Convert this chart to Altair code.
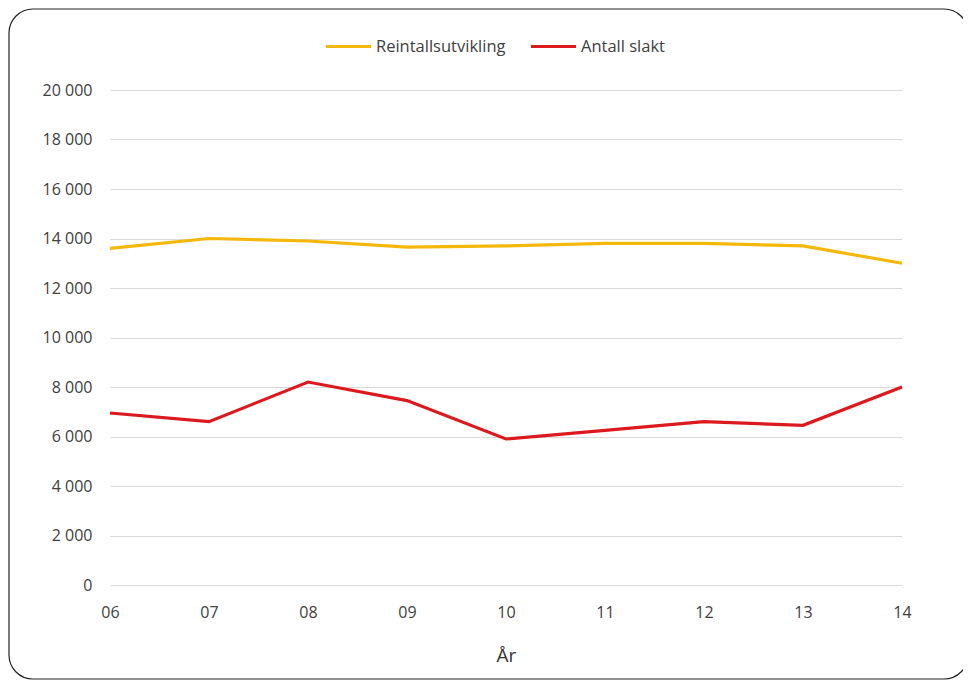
import altair as alt
import pandas as pd

years = ["06", "07", "08", "09", "10", "11", "12", "13", "14"]
reintall = [13600, 14000, 13900, 13650, 13700, 13800, 13800, 13700, 13000]
slakt = [6950, 6600, 8200, 7450, 5900, 6250, 6600, 6450, 8000]
series_names = ["Reintallsutvikling", "Antall slakt"]
colors = ["#F4B80C", "#DC1A1E"]

rows = []
for i, y in enumerate(years):
    rows.append({"År": y, "Serie": series_names[0], "Verdi": reintall[i]})
    rows.append({"År": y, "Serie": series_names[1], "Verdi": slakt[i]})
df = pd.DataFrame(rows)

FONT = "Open Sans"
W, H = 792, 495

border = alt.Chart(pd.DataFrame({"a": [0]})).mark_rect(
    fillOpacity=0, stroke="#222222", strokeWidth=1.2, cornerRadius=24
).encode(
    x=alt.value(-101), x2=alt.value(858), y=alt.value(-81), y2=alt.value(589)
)

lines = alt.Chart(df).mark_line(strokeWidth=3.2).encode(
    x=alt.X("År:O", sort=years,
            scale=alt.Scale(type="point", padding=0),
            axis=alt.Axis(title="År", labelAngle=0, grid=False, domain=False, ticks=False,
                          labelPadding=19, titlePadding=26, labelFontSize=16,
                          titleFontSize=19, titleFontWeight="normal",
                          labelColor="#404040", titleColor="#333333", labelFont=FONT, titleFont=FONT)),
    y=alt.Y("Verdi:Q", scale=alt.Scale(domain=[0, 20000]),
            axis=alt.Axis(title=None, values=list(range(0, 20001, 2000)), grid=True,
                          gridColor="#d9d9d9", gridWidth=1, domain=False, ticks=False,
                          labelPadding=18, labelFontSize=16, labelColor="#404040", labelFont=FONT,
                          labelExpr="replace(format(datum.value, ','), ',', ' ')")),
    color=alt.Color("Serie:N", sort=series_names,
                    scale=alt.Scale(domain=series_names, range=colors),
                    legend=alt.Legend(title=None, orient="none", direction="horizontal",
                                      legendX=214, legendY=-68, symbolType="stroke",
                                      symbolSize=2025, symbolStrokeWidth=3.2,
                                      labelFontSize=16.5, labelFont=FONT, labelColor="#404040",
                                      columnPadding=18, labelOffset=3)),
)

chart = alt.layer(border, lines).properties(
    width=W, height=H,
    autosize=alt.AutoSizeParams(type="none"),
    padding={"left": 102, "top": 82, "right": 61, "bottom": 96},
).configure(background="white").configure_view(stroke=None)

chart.save("out.html", embed_options={"renderer": "svg", "actions": False})
